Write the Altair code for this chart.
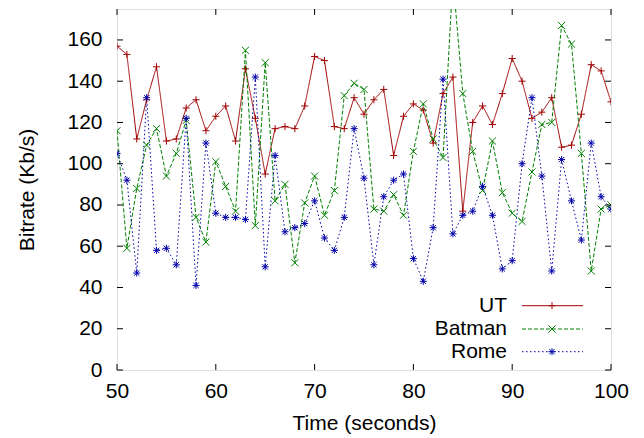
import altair as alt
import pandas as pd

# ---- data ----
seconds = [50, 51, 52, 53, 54, 55, 56, 57, 58, 59, 60, 61, 62, 63, 64, 65, 66, 67, 68, 69,
           70, 71, 72, 73, 74, 75, 76, 77, 78, 79, 80, 81, 82, 83, 84, 85, 86, 87, 88, 89,
           90, 91, 92, 93, 94, 95, 96, 97, 98, 99, 100]
ut = [157, 153, 112, 131, 147, 111, 112, 127, 131, 116, 123, 128, 111, 146, 122, 95, 117,
      118, 117, 128, 152, 150, 118, 117, 132, 124, 131, 136, 104, 123, 129, 126, 110, 134,
      142, 77, 120, 128, 119, 134, 151, 140, 122, 125, 132, 108, 109, 124, 148, 145, 130]
batman = [116, 59, 88, 109, 117, 94, 105, 121, 74, 62, 101, 89, 77, 155, 70, 149, 82, 90,
          52, 81, 94, 75, 87, 133, 139, 136, 78, 77, 85, 75, 106, 129, 112, 103, 190, 134,
          106, 87, 111, 86, 76, 72, 96, 119, 120, 167, 158, 105, 48, 78, 80]
rome = [105, 92, 47, 132, 58, 59, 51, 122, 41, 110, 76, 74, 74, 73, 142, 50, 104, 67, 69,
        71, 82, 64, 58, 74, 117, 93, 51, 84, 92, 95, 54, 43, 69, 141, 66, 75, 77, 89, 75,
        49, 53, 100, 132, 94, 48, 102, 82, 63, 110, 84, 78]

series_names = ["UT", "Batman", "Rome"]
x_ticks = [50, 60, 70, 80, 90, 100]
y_ticks = [0, 20, 40, 60, 80, 100, 120, 140, 160]

# ---- styles ----
colors = ["#a00000", "#008000", "#0000a8"]
dashes = [[1, 0], [4, 2], [1.5, 2.5]]
shapes = [
    "M-1,0L1,0M0,-1L0,1",
    "M-1,-1L1,1M-1,1L1,-1",
    "M-1,0L1,0M0,-1L0,1M-0.75,-0.75L0.75,0.75M-0.75,0.75L0.75,-0.75",
]
FONT = "Liberation Sans"
FS = 21
W, H = 494, 361
MSIZE = 50

rows = []
for name, vals in zip(series_names, [ut, batman, rome]):
    for t, v in zip(seconds, vals):
        rows.append({"time": t, "bitrate": v, "series": name})
df = pd.DataFrame(rows)

xscale = alt.Scale(domain=[50, 100], nice=False, zero=False)
yscale = alt.Scale(domain=[0, 175], nice=False, zero=False)

x_axis = alt.Axis(values=x_ticks, title="Time (seconds)", ticks=False, tickSize=0,
                  domain=False, grid=False, labelFontSize=FS, labelFont=FONT,
                  labelColor="black", labelPadding=10, labelFlush=False,
                  titleFontSize=FS, titleFont=FONT, titleFontWeight="normal",
                  titleColor="black", titleX=W / 2, titleY=59, titleAlign="center",
                  titleBaseline="alphabetic")
y_axis = alt.Axis(values=y_ticks, title="Bitrate (Kb/s)", ticks=False, tickSize=0,
                  domain=False, grid=False, labelFontSize=FS, labelFont=FONT,
                  labelColor="black", labelPadding=15, labelFlush=False,
                  titleFontSize=FS, titleFont=FONT, titleFontWeight="normal",
                  titleColor="black", titleX=-84, titleY=H / 2, titleAngle=270,
                  titleAlign="center", titleBaseline="alphabetic")

X = alt.X("time:Q", scale=xscale, axis=x_axis)
Y = alt.Y("bitrate:Q", scale=yscale, axis=y_axis)

color_enc = alt.Color("series:N", scale=alt.Scale(domain=series_names, range=colors), legend=None)

lines = alt.Chart(df).mark_line(strokeWidth=1, clip=True).encode(
    x=X, y=Y,
    color=color_enc,
    strokeDash=alt.StrokeDash("series:N", scale=alt.Scale(domain=series_names, range=dashes),
                              legend=None),
    detail="series:N",
)

points = alt.Chart(df).mark_point(filled=False, size=MSIZE, strokeWidth=1, opacity=1,
                                  clip=True).encode(
    x=X, y=Y,
    color=color_enc,
    shape=alt.Shape("series:N", scale=alt.Scale(domain=series_names, range=shapes),
                    legend=None),
)

xt = pd.DataFrame({"time": x_ticks})
yt = pd.DataFrame({"bitrate": y_ticks})
tick_style = dict(color="black", strokeWidth=1)
tb = alt.Chart(xt).mark_rule(**tick_style).encode(x=X, y=alt.value(H), y2=alt.value(H - 6))
tt = alt.Chart(xt).mark_rule(**tick_style).encode(x=X, y=alt.value(0), y2=alt.value(6))
tl = alt.Chart(yt).mark_rule(**tick_style).encode(y=Y, x=alt.value(0), x2=alt.value(6))
tr = alt.Chart(yt).mark_rule(**tick_style).encode(y=Y, x=alt.value(W), x2=alt.value(W - 6))

# ---- gnuplot-style key (label left of sample) ----
legend_layers = []
key_y = [296.7, 320, 342.7]
for name, col, dash, shp, ky in zip(series_names, colors, dashes, shapes, key_y):
    one = pd.DataFrame({"series": [name]})
    legend_layers.append(alt.Chart(one).mark_text(
        align="right", baseline="middle", fontSize=FS, font=FONT, color="black").encode(
        x=alt.value(390), y=alt.value(ky), text="series:N"))
    legend_layers.append(alt.Chart(one).mark_rule(
        color=col, strokeWidth=1, strokeDash=dash).encode(
        x=alt.value(405), x2=alt.value(466), y=alt.value(ky)))
    legend_layers.append(alt.Chart(one).mark_point(
        shape=shp, filled=False, size=MSIZE, strokeWidth=1, color=col, opacity=1).encode(
        x=alt.value(435), y=alt.value(ky)))

chart = alt.layer(lines, points, tb, tt, tl, tr, *legend_layers).properties(
    width=W, height=H,
    autosize=alt.AutoSizeParams(type="none"),
    padding={"left": 117, "top": 9, "right": 33, "bottom": 68},
).configure_view(stroke="black", strokeWidth=1.5).configure(background="white")

chart.save("out.html", embed_options={"renderer": "svg", "actions": False})
